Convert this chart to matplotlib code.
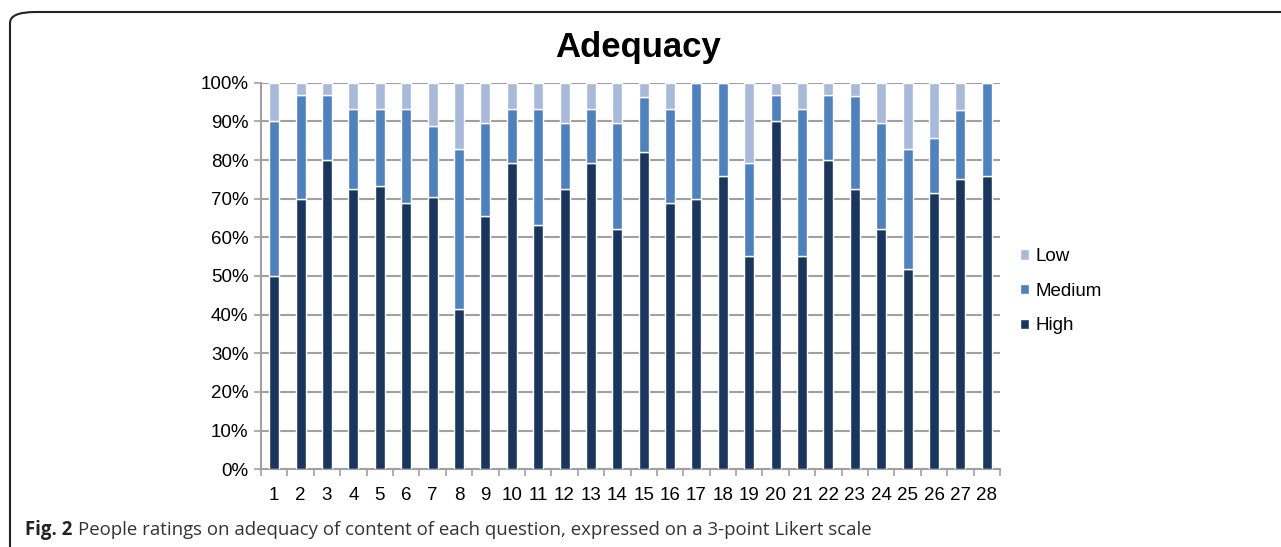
#!/usr/bin/env python3

import numpy as np
import matplotlib
matplotlib.use('Agg')
from matplotlib import pyplot as plt
from matplotlib.patches import FancyBboxPatch

questions = [str(i) for i in range(1, 29)]

# percent of people per rating
high   = [50.0, 70.0, 80.0, 72.4, 73.3, 69.0, 70.4, 41.4, 65.5, 79.3, 63.3, 72.4, 79.3, 62.1,
          82.1, 69.0, 70.0, 75.9, 55.2, 90.0, 55.2, 80.0, 72.4, 62.1, 51.7, 71.4, 75.0, 75.9]
medium = [40.0, 26.7, 16.7, 20.7, 20.0, 24.1, 18.5, 41.4, 24.2, 13.8, 30.0, 17.3, 13.8, 27.6,
          14.3, 24.1, 30.0, 24.1, 24.1,  6.7, 37.9, 16.7, 24.2, 27.6, 31.1, 14.3, 17.9, 24.1]
low    = [10.0,  3.3,  3.3,  6.9,  6.7,  6.9, 11.1, 17.2, 10.3,  6.9,  6.7, 10.3,  6.9, 10.3,
           3.6,  6.9,  0.0,  0.0, 20.7,  3.3,  6.9,  3.3,  3.4, 10.3, 17.2, 14.3,  7.1,  0.0]

c_high, c_med, c_low = '#1b365d', '#4f81bd', '#a8b9d9'

plt.rcParams['font.family'] = ['Liberation Sans', 'DejaVu Sans']

fig = plt.figure(figsize=(12.81, 5.47), dpi=100)
ax = fig.add_axes([261/1281, 1-469.3/547, 739/1281, (469.3-82.7)/547])

x = np.arange(len(questions))
w = 0.38
h = np.array(high); m = np.array(medium); l = np.array(low)
ax.bar(x, h, w, color=c_high, edgecolor='white', linewidth=1, label='High', zorder=3)
ax.bar(x, m, w, bottom=h, color=c_med, edgecolor='white', linewidth=1, label='Medium', zorder=3)
ax.bar(x, l, w, bottom=h+m, color=c_low, edgecolor='white', linewidth=1, label='Low', zorder=3)

ax.set_xlim(-0.5, len(questions)-0.5)
ax.set_ylim(0, 100)
ax.set_yticks(range(0, 101, 10))
ax.set_yticklabels(['%d%%' % v for v in range(0, 101, 10)], fontsize=13.5)
ax.yaxis.grid(True, color='#a0a0a0', linewidth=1.5, zorder=0)
ax.set_axisbelow(True)

ax.set_xticks(x)
ax.set_xticklabels(questions, fontsize=13.5)
ax.set_xticks(np.arange(-0.5, len(questions)), minor=True)
ax.tick_params(axis='x', which='major', length=0, pad=13)
ax.tick_params(axis='x', which='minor', length=5, color='#a0a0a0', width=1.2)
ax.tick_params(axis='y', length=5, color='#a0a0a0', width=1.2, pad=4)

for s in ['top', 'right']:
    ax.spines[s].set_visible(False)
for s in ['left', 'bottom']:
    ax.spines[s].set_color('#a0a0a0')
    ax.spines[s].set_linewidth(1.5)

handles, labels = ax.get_legend_handles_labels()
fig.legend(handles[::-1], labels[::-1], loc='upper left', bbox_to_anchor=(1003/1281, 1-231/547),
           frameon=False, fontsize=13.5, handlelength=0.5, handleheight=0.5,
           handletextpad=0.35, labelspacing=0.95)

fig.text(0.498, 1-47/547, 'Adequacy', ha='center', va='center', fontsize=25, fontweight='bold')

fig.text(25/1281, 1-530/547, 'Fig. 2', ha='left', va='center', fontsize=13.4,
         fontweight='bold', family='Open Sans', color='#222222')
fig.text(78/1281, 1-530/547, 'People ratings on adequacy of content of each question, '
         'expressed on a 3-point Likert scale', ha='left', va='center', fontsize=13.4,
         family='Open Sans', color='#333333')

frame = FancyBboxPatch((10/1281, -0.1), 1.2, 1-12/547+0.1, boxstyle='round,pad=0,rounding_size=0.02',
                       transform=fig.transFigure, fill=False, edgecolor='#222222', linewidth=1.5,
                       clip_on=False)
fig.patches.append(frame)

fig.savefig('out.png', dpi=100)
